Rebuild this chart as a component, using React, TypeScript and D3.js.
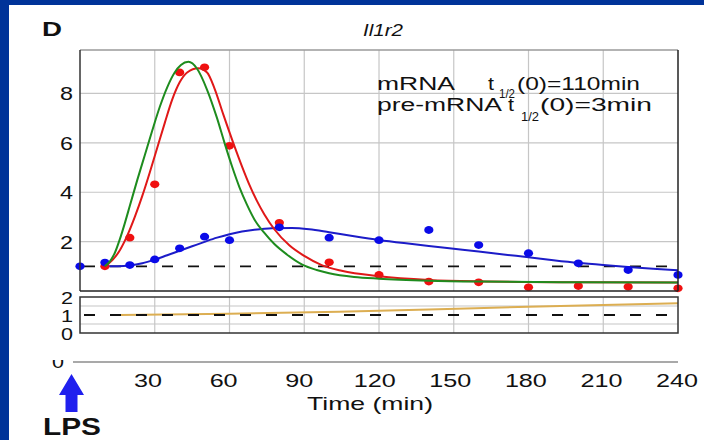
import React from "react";
import * as d3 from "d3";

// ---- data ----
const obsTimes = [0, 10, 20, 30, 40, 50, 60, 80, 100, 120, 140, 160, 180, 200, 220, 240];
const blueObs = [1.0, 1.15, 1.05, 1.28, 1.73, 2.2, 2.06, 2.58, 2.16, 2.06, 2.47, 1.86, 1.53, 1.12, 0.85, 0.65];
const redTimes = [10, 20, 30, 40, 50, 60, 80, 100, 120, 140, 160, 180, 200, 220, 240];
const redObs = [1.0, 2.16, 4.32, 8.85, 9.06, 5.88, 2.76, 1.16, 0.65, 0.38, 0.35, 0.15, 0.2, 0.17, 0.11];

const blueFitT = [10, 15, 20, 25, 30, 35, 40, 45, 50, 55, 60, 65, 70, 77, 85, 92, 100, 110, 120, 130, 140, 150, 160, 170, 180, 190, 200, 210, 220, 230, 240];
const blueFitV = [1.0, 1.0, 1.03, 1.12, 1.27, 1.45, 1.63, 1.81, 1.99, 2.16, 2.3, 2.41, 2.48, 2.54, 2.55, 2.5, 2.38, 2.22, 2.07, 1.94, 1.82, 1.71, 1.6, 1.48, 1.37, 1.25, 1.14, 1.05, 0.97, 0.9, 0.84];

const redFitT = [10, 13, 16, 19, 22, 25, 28, 31, 34, 37, 40, 43, 47.5, 51, 54, 57.5, 61.5, 65, 68, 71, 74, 78, 84, 90, 97, 105, 120, 140, 160, 200, 240];
const redFitV = [1.0, 1.25, 1.65, 2.25, 3.0, 3.85, 4.8, 5.8, 6.8, 7.75, 8.45, 8.85, 9.02, 8.85, 8.2, 7.15, 6.0, 5.05, 4.3, 3.65, 3.1, 2.5, 1.85, 1.42, 1.05, 0.82, 0.6, 0.45, 0.39, 0.35, 0.34];

const greenFitT = [10, 12, 14, 16, 18, 20, 23, 26, 29, 32, 35, 38, 40.5, 43.5, 47, 51, 55, 58, 61, 64, 67, 70, 74, 78, 83, 89, 95, 100, 110, 120, 140, 160, 200, 240];
const greenFitV = [1.0, 1.2, 1.55, 2.1, 2.75, 3.45, 4.5, 5.5, 6.5, 7.45, 8.25, 8.85, 9.15, 9.28, 9.0, 8.15, 7.0, 6.0, 5.05, 4.2, 3.5, 2.9, 2.35, 1.9, 1.48, 1.08, 0.85, 0.72, 0.57, 0.5, 0.42, 0.38, 0.35, 0.34];

const ratioT = [16, 60, 104, 140, 180, 240];
const ratioV = [1.0, 1.07, 1.18, 1.3, 1.46, 1.65];

const xTicks = [30, 60, 90, 120, 150, 180, 210, 240];
const yTicks = [2, 4, 6, 8];
const yLowTicks = [0, 1, 2];
const yLowGrid = [0.5, 1.5];

const FONT = "'Liberation Sans', Arial, Helvetica, sans-serif";

function T(props: any) {
  const { x, y, fs, len, anchor = "start", weight = "normal", italic = false, fill = "#111", children } = props;
  return (
    <text
      x={x}
      y={y}
      fontSize={fs}
      fontFamily={FONT}
      fontWeight={weight}
      fontStyle={italic ? "italic" : "normal"}
      textAnchor={anchor}
      fill={fill}
      textLength={len}
      lengthAdjust="spacingAndGlyphs"
    >
      {children}
    </text>
  );
}

export default function App() {
  const x = d3.scaleLinear().domain([0, 240]).range([80, 678]);
  const y = d3.scaleLinear().domain([0, 9.76]).range([291, 50]);
  const yl = d3.scaleLinear().domain([0, 2]).range([333, 297]);
  const xb = d3.scaleLinear().domain([0, 240]).range([72.5, 677]);

  const line = (ts: number[], vs: number[], ys: any) =>
    d3
      .line<number>()
      .x((_, i) => x(ts[i]))
      .y((v) => ys(v))
      .curve(d3.curveMonotoneX)(vs) as string;

  const gridX = [30, 60, 90, 120, 150, 180, 210];
  const gridCol = "#a0a0a0";
  const gw = 1.2;

  const vGrid = (y1: number, y2: number) =>
    gridX.map((t) => `M${x(t)},${y1}V${y2}`).join("");
  const hGrid = (vals: number[], sc: any) =>
    vals.map((v) => `M80,${sc(v)}H678`).join("");

  return (
    <svg width={704} height={440} style={{ position: "absolute", left: 0, top: 0 }}>
      <defs>
        <clipPath id="zclip">
          <rect x={40} y={360} width={40} height={20} />
        </clipPath>
        <clipPath id="plotclip">
          <rect x={80} y={50} width={598} height={241} />
        </clipPath>
      </defs>
      <rect x={0} y={0} width={704} height={440} fill="#003399" />
      <rect x={9} y={5} width={695} height={435} fill="#ffffff" />

      {/* header */}
      <T x={42} y={36} fs={20} len={20} weight="bold">D</T>
      <T x={383} y={36} fs={16.5} len={40} anchor="middle" italic>Il1r2</T>

      {/* main grid */}
      <path d={vGrid(50, 291) + hGrid(yTicks, y)} fill="none" stroke={gridCol} strokeWidth={gw} opacity={0.6} />
      {/* baseline dashed */}
      <line x1={80} x2={678} y1={y(1)} y2={y(1)} stroke="#111" strokeWidth={1.8} strokeDasharray="11 15" strokeDashoffset={-4} />

      {/* annotation */}
      <T x={377} y={90} fs={17.5} len={78}>mRNA</T>
      <T x={488} y={90} fs={17.5} len={6}>t</T>
      <T x={499} y={97.5} fs={12} len={16}>1/2</T>
      <T x={517} y={90} fs={17.5} len={123}>(0)=110min</T>
      <T x={377} y={111} fs={17.5} len={125}>pre-mRNA</T>
      <T x={508} y={111} fs={17.5} len={6}>t</T>
      <T x={521} y={121} fs={12} len={18}>1/2</T>
      <T x={540} y={111} fs={17.5} len={112}>(0)=3min</T>

      {/* data */}
      <g clipPath="url(#plotclip)">
        <path d={line(blueFitT, blueFitV, y)} fill="none" stroke="#1c1cc8" strokeWidth={2} />
      </g>
      {redTimes.map((t, i) => (
        <ellipse key={"r" + t} cx={x(t)} cy={y(redObs[i])} rx={4.6} ry={3.9} fill="#f01010" />
      ))}
      {obsTimes.map((t, i) => (
        <ellipse key={"b" + t} cx={x(t)} cy={y(blueObs[i])} rx={4.6} ry={3.9} fill="#0a0ae8" />
      ))}
      <g clipPath="url(#plotclip)">
        <path d={line(redFitT, redFitV, y)} fill="none" stroke="#e01818" strokeWidth={2} />
        <path d={line(greenFitT, greenFitV, y)} fill="none" stroke="#1e8c1e" strokeWidth={2} />
      </g>

      {/* main frame */}
      <line x1={80} x2={678} y1={50} y2={50} stroke="#9a9a9a" strokeWidth={1.5} />
      <line x1={678} x2={678} y1={50} y2={291} stroke="#222" strokeWidth={1.5} />
      <line x1={80} x2={80} y1={50} y2={291} stroke="#333" strokeWidth={1.5} />
      <line x1={80} x2={678} y1={291} y2={291} stroke="#222" strokeWidth={1.5} />

      {yTicks.map((v) => (
        <T key={"yl" + v} x={73} y={y(v) + 7} fs={18.5} len={13} anchor="end">{String(v)}</T>
      ))}

      {/* lower panel */}
      <path d={vGrid(297, 333) + hGrid(yLowGrid, yl)} fill="none" stroke={gridCol} strokeWidth={gw} opacity={0.6} />
      <path d={line(ratioT, ratioV, yl)} fill="none" stroke="#dcae52" strokeWidth={2} />
      <line x1={80} x2={678} y1={yl(1)} y2={yl(1)} stroke="#111" strokeWidth={1.8} strokeDasharray="11 15" strokeDashoffset={-4} />
      <rect x={80} y={297} width={598} height={36} fill="none" stroke="#333" strokeWidth={1.5} />
      {yLowTicks.map((v) => (
        <T key={"yll" + v} x={73} y={yl(v) + 6.5} fs={16} len={12} anchor="end">{String(v)}</T>
      ))}

      {/* bottom axis */}
      <line x1={73} x2={678} y1={362} y2={362} stroke="#555" strokeWidth={1.2} />
      <g clipPath="url(#zclip)">
        <T x={58} y={368} fs={18.5} len={12} anchor="middle">0</T>
      </g>
      {xTicks.map((t) => (
        <T key={"xt" + t} x={xb(t)} y={386.5} fs={18.5} len={String(t).length * 14} anchor="middle">{String(t)}</T>
      ))}
      <T x={370} y={410} fs={18.5} len={126} anchor="middle">Time (min)</T>

      {/* LPS arrow */}
      <path d="M71.5,374 L84,395 L77.5,395 L77.5,412 L65.5,412 L65.5,395 L59,395 Z" fill="#2020ee" />
      <T x={43} y={435} fs={23} len={58} weight="bold">LPS</T>
    </svg>
  );
}
